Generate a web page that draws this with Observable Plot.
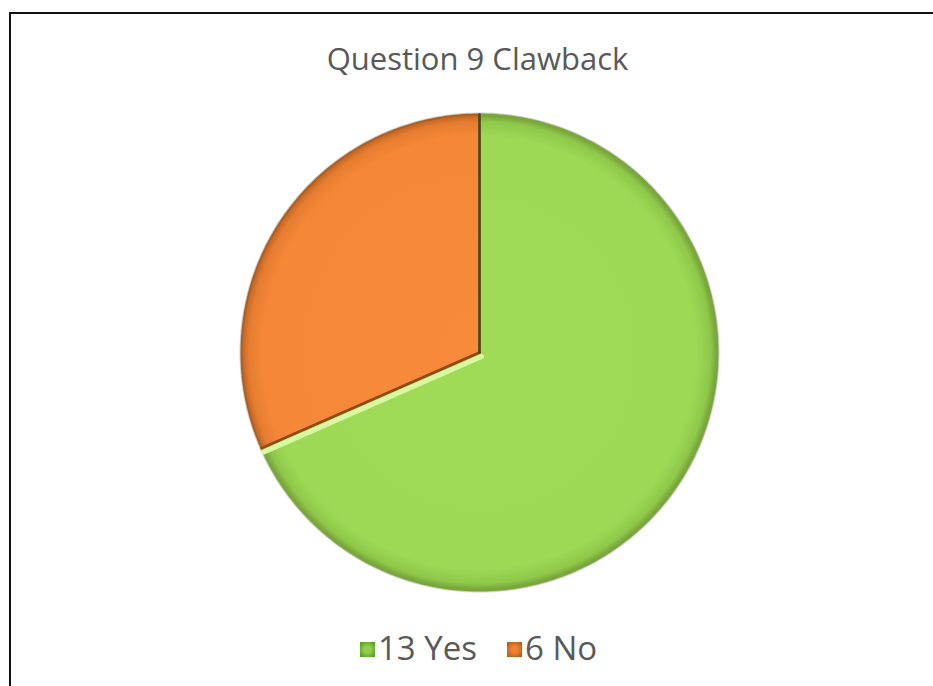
<!DOCTYPE html>
<html>
<head>
<meta charset="utf-8">
<script src="https://cdn.jsdelivr.net/npm/d3@7"></script>
<script src="https://cdn.jsdelivr.net/npm/@observablehq/plot@0.6"></script>
<style>
  html, body { margin: 0; padding: 0; background: #fff; }
  #page { position: relative; width: 933px; height: 686px; overflow: hidden; background: #fff; }
  #frame { position: absolute; left: 9px; top: 12px; right: -10px; bottom: -10px; border-top: 2px solid #111; border-left: 2px solid #111; }
  #title { position: absolute; left: 0; top: 36px; width: 955px; text-align: center; font-family: "Open Sans", sans-serif; font-size: 31px; color: #595959; line-height: 44px; }
  #chart { position: absolute; left: 0; top: 100px; }
  #legend { position: absolute; left: 0; top: 625px; width: 957px; display: flex; justify-content: center; gap: 30px; font-family: "Open Sans", sans-serif; font-size: 33px; color: #595959; line-height: 46px; }
  .item { display: flex; align-items: center; gap: 3px; }
  .sw { width: 15px; height: 15px; display: inline-block; box-sizing: border-box; margin-top: 3px; }
</style>
</head>
<body>
<div id="page">
  <div id="frame"></div>
  <div id="title"></div>
  <div id="chart"></div>
  <div id="legend"></div>
</div>
<script>
const title = "Question 9 Clawback";
const categories = ["Yes", "No"];
const values = [13, 6];
const colors = ["#9dd955", "#f78a3a"];

const data = categories.map((c, i) => ({category: c, value: values[i]}));
const arcs = d3.pie().sort(null).value(d => d.value)(data);

// outline points of each slice (unit circle, y up), derived from pie angles
function slicePoints(a) {
  const pts = [{x: 0, y: 0, category: a.data.category}];
  const n = Math.max(2, Math.ceil((a.endAngle - a.startAngle) / (Math.PI / 180)));
  for (let k = 0; k <= n; k++) {
    const t = a.startAngle + (a.endAngle - a.startAngle) * k / n;
    pts.push({x: Math.sin(t), y: Math.cos(t), category: a.data.category});
  }
  pts.push({x: 0, y: 0, category: a.data.category});
  return pts;
}
const sliceData = arcs.map(slicePoints);
const circle = d3.range(0, 361).map(d => ({x: Math.sin(d * Math.PI / 180), y: Math.cos(d * Math.PI / 180)}));
// seams (radial edges)
const seams = arcs.map(a => [{x: 0, y: 0}, {x: Math.sin(a.startAngle), y: Math.cos(a.startAngle)}]);

const fillIds = ["gYes", "gNo"];

const plot = Plot.plot({
  width: 933,
  height: 500,
  marginLeft: 241,
  marginRight: 216,
  marginTop: 14,
  marginBottom: 10,
  x: {domain: [-1, 1], axis: null},
  y: {domain: [-1, 1], axis: null},
  marks: [
    Plot.line(circle, {x: "x", y: "y", stroke: "#cfcfcf", strokeWidth: 4, fill: "none"}),
    ...sliceData.map((pts, i) => Plot.line(pts, {x: "x", y: "y", fill: `url(#${fillIds[i]})`, stroke: i === 1 ? "#b05e22" : "#7aa83b", strokeWidth: 2, strokeLinejoin: "round"})),
    // seam highlights / shadows
    Plot.line(seams[1], {x: "x", y: "y", stroke: "#d8f7a0", strokeWidth: 5, dx: 2, dy: 4}),
    Plot.line(seams[1], {x: "x", y: "y", stroke: "#8f4a18", strokeWidth: 2.5}),
    Plot.line(seams[0], {x: "x", y: "y", stroke: "#3f4a22", strokeWidth: 2.5})
  ]
});

// gradients for bevel look
const svg = d3.select(plot);
const defs = svg.insert("defs", ":first-child");
const cx = 479, cy = 252, r = 238;
function radial(id, stops) {
  const g = defs.append("radialGradient").attr("id", id).attr("gradientUnits", "userSpaceOnUse")
    .attr("cx", cx).attr("cy", cy).attr("r", r).attr("fx", cx).attr("fy", cy);
  stops.forEach(([o, c]) => g.append("stop").attr("offset", o).attr("stop-color", c));
}
radial("gYes", [["0%", "#a0db58"], ["91%", "#9dd955"], ["97%", "#8fc84a"], ["100%", "#749f38"]]);
radial("gNo", [["0%", "#f78b3b"], ["91%", "#f58838"], ["97%", "#e67c30"], ["100%", "#bd6522"]]);

document.getElementById("chart").appendChild(plot);
document.getElementById("title").textContent = title;

const legend = d3.select("#legend");
const swGrad = [
  "radial-gradient(circle, #8fd14a 30%, #4f8f22 100%)",
  "radial-gradient(circle, #ee8232 30%, #a9521a 100%)"
];
data.forEach((d, i) => {
  const item = legend.append("div").attr("class", "item");
  item.append("span").attr("class", "sw").style("background", swGrad[i]);
  item.append("span").text(`${d.value} ${d.category}`);
});
</script>
</body>
</html>
